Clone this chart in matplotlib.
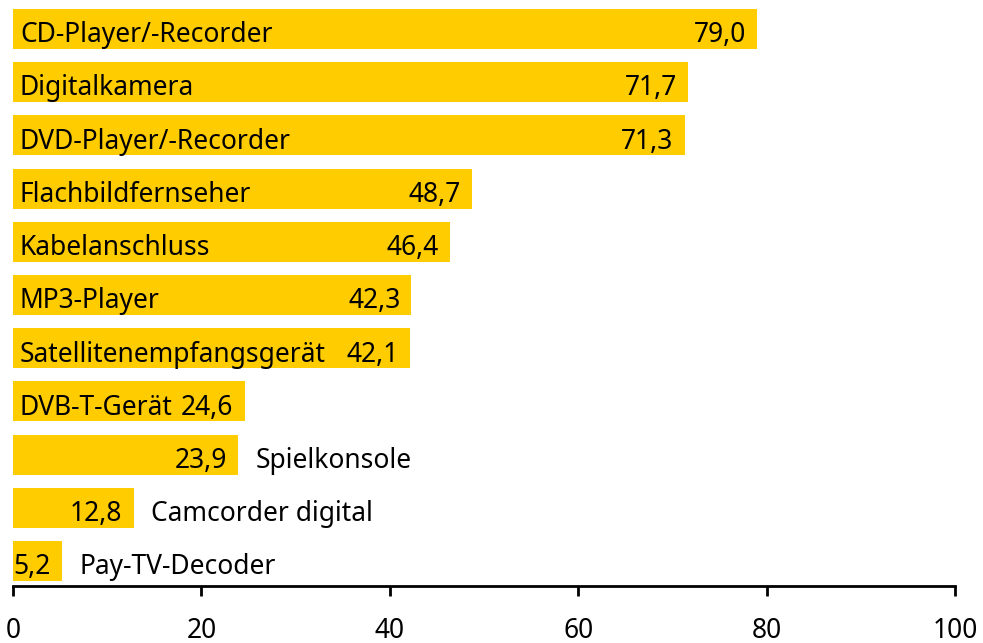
import matplotlib
matplotlib.use("Agg")
import matplotlib.pyplot as plt
from matplotlib.transforms import offset_copy

categories = ["CD-Player/-Recorder", "Digitalkamera", "DVD-Player/-Recorder",
              "Flachbildfernseher", "Kabelanschluss", "MP3-Player",
              "Satellitenempfangsgerät", "DVB-T-Gerät", "Spielkonsole",
              "Camcorder digital", "Pay-TV-Decoder"]
values = [79.0, 71.7, 71.3, 48.7, 46.4, 42.3, 42.1, 24.6, 23.9, 12.8, 5.2]
label_outside = [False] * 8 + [True] * 3
xticks = [0, 20, 40, 60, 80, 100]

plt.rcParams['font.family'] = ['Noto Sans', 'DejaVu Sans']
fig = plt.figure(figsize=(9.83, 6.43), dpi=100)
ax = fig.add_axes([13/983, (643-586)/643, (955-13)/983, (586-9)/643])

ypos = list(range(len(values)))
ax.barh(ypos, values, height=0.75, color="#FFCC00", edgecolor="none")
ax.set_xlim(0, 100)
ax.set_ylim(len(values) - 1 + 0.47, -0.375)

fs = 19
for i, (cat, v, out) in enumerate(zip(categories, values, label_outside)):
    tr_val = offset_copy(ax.transData, fig=fig, x=-8, y=-9.6, units='points')
    ax.text(v, i, f"{v:.1f}".replace(".", ","), ha="right", va="baseline",
            fontsize=fs, transform=tr_val)
    if out:
        tr_lab = offset_copy(ax.transData, fig=fig, x=12.5, y=-9.6, units='points')
        ax.text(v, i, cat, ha="left", va="baseline", fontsize=fs, transform=tr_lab)
    else:
        tr_lab = offset_copy(ax.transData, fig=fig, x=5, y=-9.6, units='points')
        ax.text(0, i, cat, ha="left", va="baseline", fontsize=fs, transform=tr_lab)

for s in ["top", "right", "left"]:
    ax.spines[s].set_visible(False)
ax.spines["bottom"].set_linewidth(2)
ax.set_yticks([])
ax.set_xticks(xticks)
ax.set_xticklabels([str(t) for t in xticks], fontsize=fs)
ax.tick_params(axis="x", direction="out", length=7, width=2, pad=15)

fig.savefig("out.png", dpi=100)
